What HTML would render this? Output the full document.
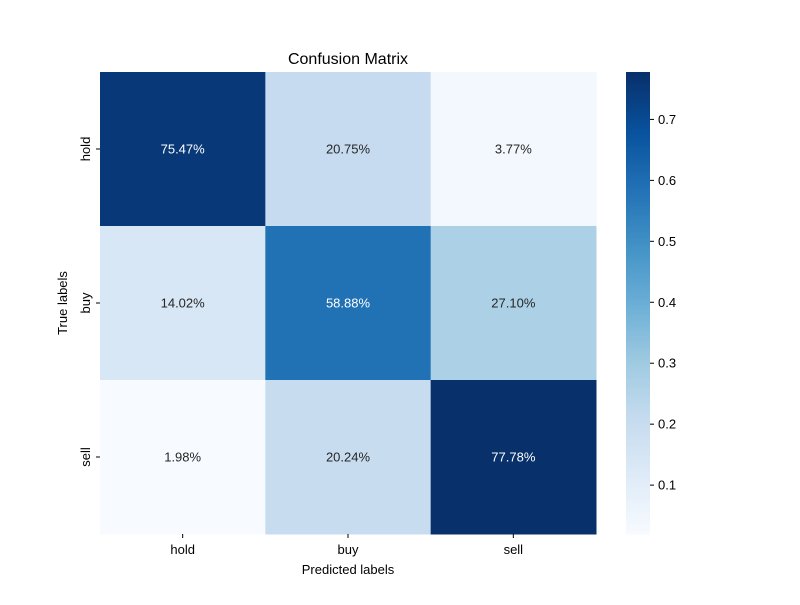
<!DOCTYPE html>
<html><head><meta charset="utf-8"><style>
body{margin:0;background:#fff;}
svg text{font-family:"Liberation Sans","DejaVu Sans",sans-serif;}
</style></head><body>
<svg id="chart" width="800" height="600" viewBox="0 0 800 600" xmlns="http://www.w3.org/2000/svg">
<rect width="800" height="600" fill="#fff"/>
<g id="cells"></g>
<g id="cbar"></g>
<text x="348" y="64" font-size="16" text-anchor="middle">Confusion Matrix</text>
<text x="348" y="574" font-size="13" text-anchor="middle">Predicted labels</text>
<text transform="translate(67,303) rotate(-90)" font-size="13" text-anchor="middle">True labels</text>
</svg>
<script>
const categories = ["hold","buy","sell"];
const rowHold = [0.7547,0.2075,0.0377];
const rowBuy = [0.1402,0.5888,0.2710];
const rowSell = [0.0198,0.2024,0.7778];
const matrix = [rowHold,rowBuy,rowSell];
const cbarTicks = [0.1,0.2,0.3,0.4,0.5,0.6,0.7];

const NS="http://www.w3.org/2000/svg";
const X0=100,X1=596,Y0=72,Y1=534;
const all=matrix.flat();
const vmin=Math.min(...all), vmax=Math.max(...all);
const stops=["#f7fbff","#deebf7","#c6dbef","#9ecae1","#6baed6","#4292c6","#2171b5","#08519c","#08306b"].map(h=>[parseInt(h.slice(1,3),16),parseInt(h.slice(3,5),16),parseInt(h.slice(5,7),16)]);
function color(v){let t=(v-vmin)/(vmax-vmin);t=Math.max(0,Math.min(1,t));const p=t*8,i=Math.min(7,Math.floor(p)),f=p-i;
const c=stops[i].map((a,k)=>Math.round(a+(stops[i+1][k]-a)*f));return c;}
function rgb(c){return `rgb(${c[0]},${c[1]},${c[2]})`;}
function lum(c){const l=c.map(x=>{x/=255;return x<=0.03928?x/12.92:Math.pow((x+0.055)/1.055,2.4)});return 0.2126*l[0]+0.7152*l[1]+0.0722*l[2];}
const cw=(X1-X0)/categories.length, ch=(Y1-Y0)/categories.length;
const xs=i=>X0+i*cw, ys=j=>Y0+j*ch;
const cells=document.getElementById('cells');
function mk(tag,attrs,parent){const e=document.createElementNS(NS,tag);for(const k in attrs)e.setAttribute(k,attrs[k]);parent.appendChild(e);return e;}
matrix.forEach((row,j)=>row.forEach((v,i)=>{
  const c=color(v);
  const r=mk('rect',{x:xs(i),y:ys(j),width:cw+0.5,height:ch+0.5,fill:rgb(c)},cells);
  
  
  const t=mk('text',{x:xs(i)+cw/2,y:ys(j)+ch/2+4.5,'font-size':13,'text-anchor':'middle',fill:lum(c)>0.408?'#262626':'#ffffff'},cells);
  
  
  t.textContent=(v*100).toFixed(2)+'%';
}));
categories.forEach((c,i)=>{
  mk('line',{x1:xs(i)+cw/2,x2:xs(i)+cw/2,y1:Y1,y2:Y1+4,stroke:'#000'},cells);
  const t=mk('text',{x:xs(i)+cw/2,y:Y1+20,'font-size':13,'text-anchor':'middle'},cells);
  
  
  t.textContent=c;
  mk('line',{x1:X0-4,x2:X0,y1:ys(i)+ch/2,y2:ys(i)+ch/2,stroke:'#000'},cells);
  const ty=ys(i)+ch/2;
  const u=mk('text',{transform:`translate(${X0-10},${ty}) rotate(-90)`,'font-size':13,'text-anchor':'middle'},cells);
  
  
  u.textContent=c;
});
// colorbar
const cb=document.getElementById('cbar');
const CX=626,CW=24,N=200;
for(let k=0;k<N;k++){
  const v0=vmin+(vmax-vmin)*k/N;
  const h=(Y1-Y0)/N;
  mk('rect',{x:CX,y:Y1-(k+1)*h,width:CW,height:h+0.6,fill:rgb(color(v0+(vmax-vmin)/(2*N)))},cb);
}
const cbs=v=>Y1-(v-vmin)/(vmax-vmin)*(Y1-Y0);
cbarTicks.forEach(v=>{
  mk('line',{x1:CX+CW,x2:CX+CW+4,y1:cbs(v),y2:cbs(v),stroke:'#000'},cb);
  const t=mk('text',{x:CX+CW+8,y:cbs(v)+4.5,'font-size':13},cb);
  
  
  t.textContent=v.toFixed(1);
});
</script>
</body></html>
